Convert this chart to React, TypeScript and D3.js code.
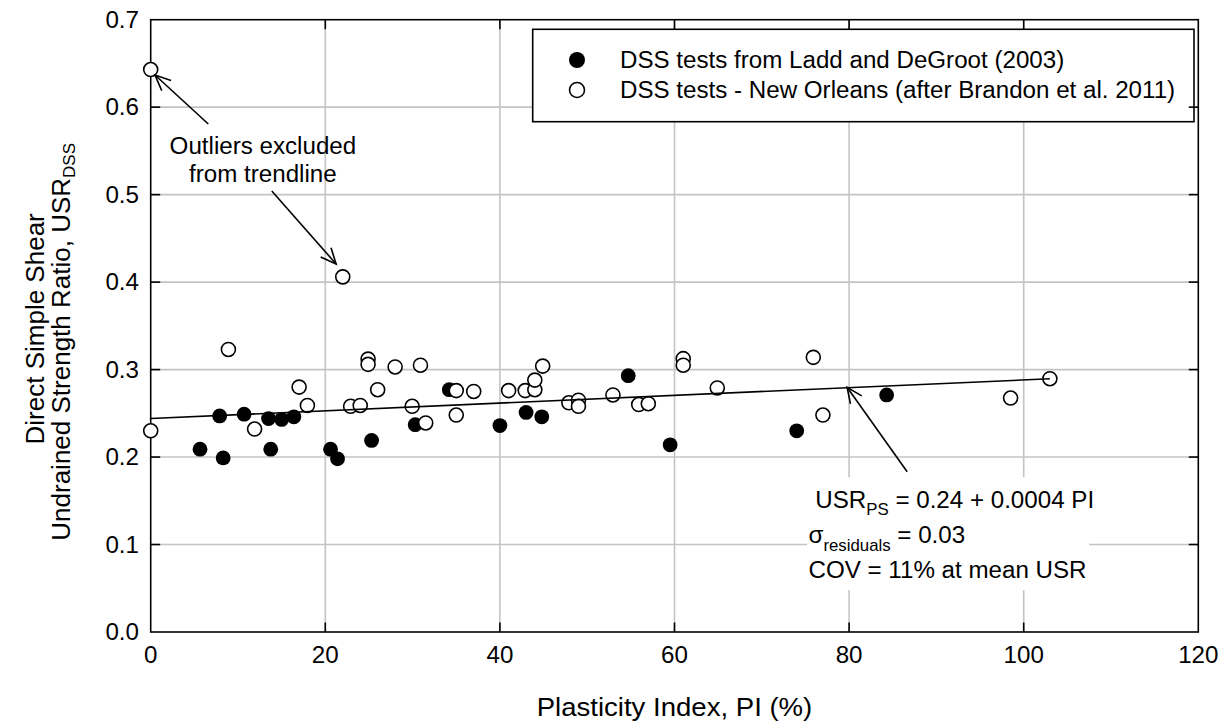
import React from "react";
import * as d3 from "d3";

const laddPI = [5.65, 8.3, 7.9, 10.7, 13.75, 13.5, 15.0, 16.4, 20.6, 21.4, 25.3, 30.3, 34.2, 40.0, 43.0, 44.8, 54.7, 59.5, 74.0, 84.3];
const laddUSR = [0.209, 0.199, 0.247, 0.249, 0.209, 0.244, 0.243, 0.246, 0.209, 0.198, 0.219, 0.237, 0.277, 0.236, 0.251, 0.246, 0.293, 0.214, 0.23, 0.271];

const nolaPI = [0, 8.9, 11.9, 17.0, 17.95, 22.9, 24.0, 24.9, 24.9, 26.0, 28.0, 29.95, 30.9, 31.5, 35.0, 35.0, 37.0, 41.0, 42.9, 44.0, 44.0, 44.9, 47.9, 49.0, 49.0, 52.95, 55.9, 57.0, 61.0, 61.0, 64.9, 75.9, 77.0, 98.5, 103.0, 0, 22.0];
const nolaUSR = [0.23, 0.323, 0.232, 0.28, 0.259, 0.258, 0.259, 0.312, 0.306, 0.277, 0.303, 0.258, 0.305, 0.239, 0.276, 0.248, 0.275, 0.276, 0.276, 0.277, 0.288, 0.304, 0.262, 0.265, 0.258, 0.271, 0.26, 0.261, 0.3125, 0.305, 0.279, 0.314, 0.248, 0.2675, 0.2896, 0.643, 0.406];

const trendPI = [0, 103];
const trendUSR = [0.244, 0.2895];

const xTicks = [0, 20, 40, 60, 80, 100, 120];
const yTicks = [0, 0.1, 0.2, 0.3, 0.4, 0.5, 0.6, 0.7];

const FONT = "'Liberation Sans', Arial, sans-serif";

const L = 150.7, R = 1198.3, TOP = 19.7, B = 632;
const x = d3.scaleLinear().domain([0, 120]).range([L, R]);
const y = d3.scaleLinear().domain([0, 0.7]).range([B, TOP]);

function T({ px, py, size = 23, anchor = "start", sx = 1.05, children }: any) {
  return (
    <text transform={`translate(${px},${py}) scale(${sx},1)`} fontSize={size} textAnchor={anchor} fontFamily={FONT} fill="#000">
      {children}
    </text>
  );
}

function Arrow({ x1, y1, x2, y2 }: any) {
  // tail (x1,y1) -> tip (x2,y2), in data units
  const tx = x(x1), ty = y(y1), hx = x(x2), hy = y(y2);
  const ang = Math.atan2(ty - hy, tx - hx);
  const len = 17, spread = (24 * Math.PI) / 180;
  const b1 = [hx + len * Math.cos(ang + spread), hy + len * Math.sin(ang + spread)];
  const b2 = [hx + len * Math.cos(ang - spread), hy + len * Math.sin(ang - spread)];
  return (
    <g stroke="#000" strokeWidth={1.6} fill="none">
      <line x1={tx} y1={ty} x2={hx} y2={hy} />
      <polyline points={`${b1[0]},${b1[1]} ${hx},${hy} ${b2[0]},${b2[1]}`} />
    </g>
  );
}

export default function App() {
  const line = d3.line<number>().x((d, i) => x(trendPI[i])).y((d) => y(d));
  const tick = 9.5;
  return (
    <svg width={1225} height={727} style={{ position: "absolute", left: 0, top: 0, background: "#fff" }}>
      <rect x={0} y={0} width={1225} height={727} fill="#fff" />
      {/* grid */}
      <g stroke="#c4c4c4" strokeWidth={1.6}>
        {xTicks.slice(1, -1).map((t) => (
          <line key={"gx" + t} x1={x(t)} x2={x(t)} y1={TOP} y2={B} />
        ))}
        {yTicks.slice(1, -1).map((t) => (
          <line key={"gy" + t} x1={L} x2={R} y1={y(t)} y2={y(t)} />
        ))}
      </g>
      {/* annotation background */}
      <rect x={x(75.2)} y={y(0.177)} width={x(107.5) - x(75.2)} height={y(0.048) - y(0.177)} fill="#fff" />
      {/* legend */}
      <rect x={532.7} y={29.3} width={1194 - 532.7} height={121.7 - 29.3} fill="#fff" stroke="#000" strokeWidth={1.6} />
      <circle cx={577} cy={60} r={8} fill="#000" />
      <circle cx={577} cy={90} r={7.5} fill="#fff" stroke="#000" strokeWidth={1.6} />
      <T px={620} py={68}>DSS tests from Ladd and DeGroot (2003)</T>
      <T px={620} py={98}>DSS tests - New Orleans (after Brandon et al. 2011)</T>
      {/* axes frame */}
      <rect x={L} y={TOP} width={R - L} height={B - TOP} fill="none" stroke="#000" strokeWidth={1.6} />
      <g stroke="#000" strokeWidth={1.6}>
        {xTicks.slice(1, -1).map((t) => (
          <g key={"tx" + t}>
            <line x1={x(t)} x2={x(t)} y1={B} y2={B - tick} />
            <line x1={x(t)} x2={x(t)} y1={TOP} y2={TOP + tick} />
          </g>
        ))}
        {yTicks.slice(1, -1).map((t) => (
          <g key={"ty" + t}>
            <line x1={L} x2={L + tick} y1={y(t)} y2={y(t)} />
            <line x1={R} x2={R - tick} y1={y(t)} y2={y(t)} />
          </g>
        ))}
      </g>
      {/* tick labels */}
      {xTicks.map((t) => (
        <T key={"lx" + t} px={x(t)} py={663} anchor="middle">{d3.format("d")(t)}</T>
      ))}
      {yTicks.map((t) => (
        <T key={"ly" + t} px={139} py={y(t) + 8} anchor="end">{d3.format(".1f")(t)}</T>
      ))}
      {/* axis titles */}
      <T px={x(60)} py={716} size={26} sx={1.06} anchor="middle">Plasticity Index, PI (%)</T>
      <text transform={`translate(44,${(TOP + B) / 2 + 3}) rotate(-90)`} fontSize={26} textAnchor="middle" fontFamily={FONT}>
        Direct Simple Shear
      </text>
      <text transform={`translate(70,${(TOP + B) / 2 + 16}) rotate(-90)`} fontSize={26} textAnchor="middle" fontFamily={FONT}>
        Undrained Strength Ratio, USR
        <tspan fontSize={17} dy={5}>DSS</tspan>
      </text>
      {/* data */}
      {laddPI.map((p, i) => (
        <circle key={"f" + i} cx={x(p)} cy={y(laddUSR[i])} r={7.4} fill="#000" />
      ))}
      {nolaPI.map((p, i) => (
        <circle key={"o" + i} cx={x(p)} cy={y(nolaUSR[i])} r={7} fill="#fff" stroke="#000" strokeWidth={1.6} />
      ))}
      <path d={line(trendUSR) || ""} stroke="#000" strokeWidth={1.6} fill="none" />
      {/* annotations */}
      <Arrow x1={6.6} y1={0.5808} x2={0.49} y2={0.6368} />
      <Arrow x1={13.87} y1={0.5042} x2={21.24} y2={0.4207} />
      <Arrow x1={86.65} y1={0.1833} x2={79.77} y2={0.2798} />
      <T px={x(12.85)} py={y(0.5465)} anchor="middle">Outliers excluded</T>
      <T px={x(12.85)} py={y(0.5148)} anchor="middle">from trendline</T>
      <T px={x(76.13)} py={y(0.1418)}>
        USR<tspan fontSize={16} dy={7}>PS</tspan>
        <tspan dy={-7}> = 0.24 + 0.0004 PI</tspan>
      </T>
      <T px={x(75.35)} py={y(0.1017)}>
        σ<tspan fontSize={16} dy={8}>residuals</tspan>
        <tspan dy={-8}> = 0.03</tspan>
      </T>
      <T px={x(75.35)} py={y(0.0614)}>COV = 11% at mean USR</T>
    </svg>
  );
}
